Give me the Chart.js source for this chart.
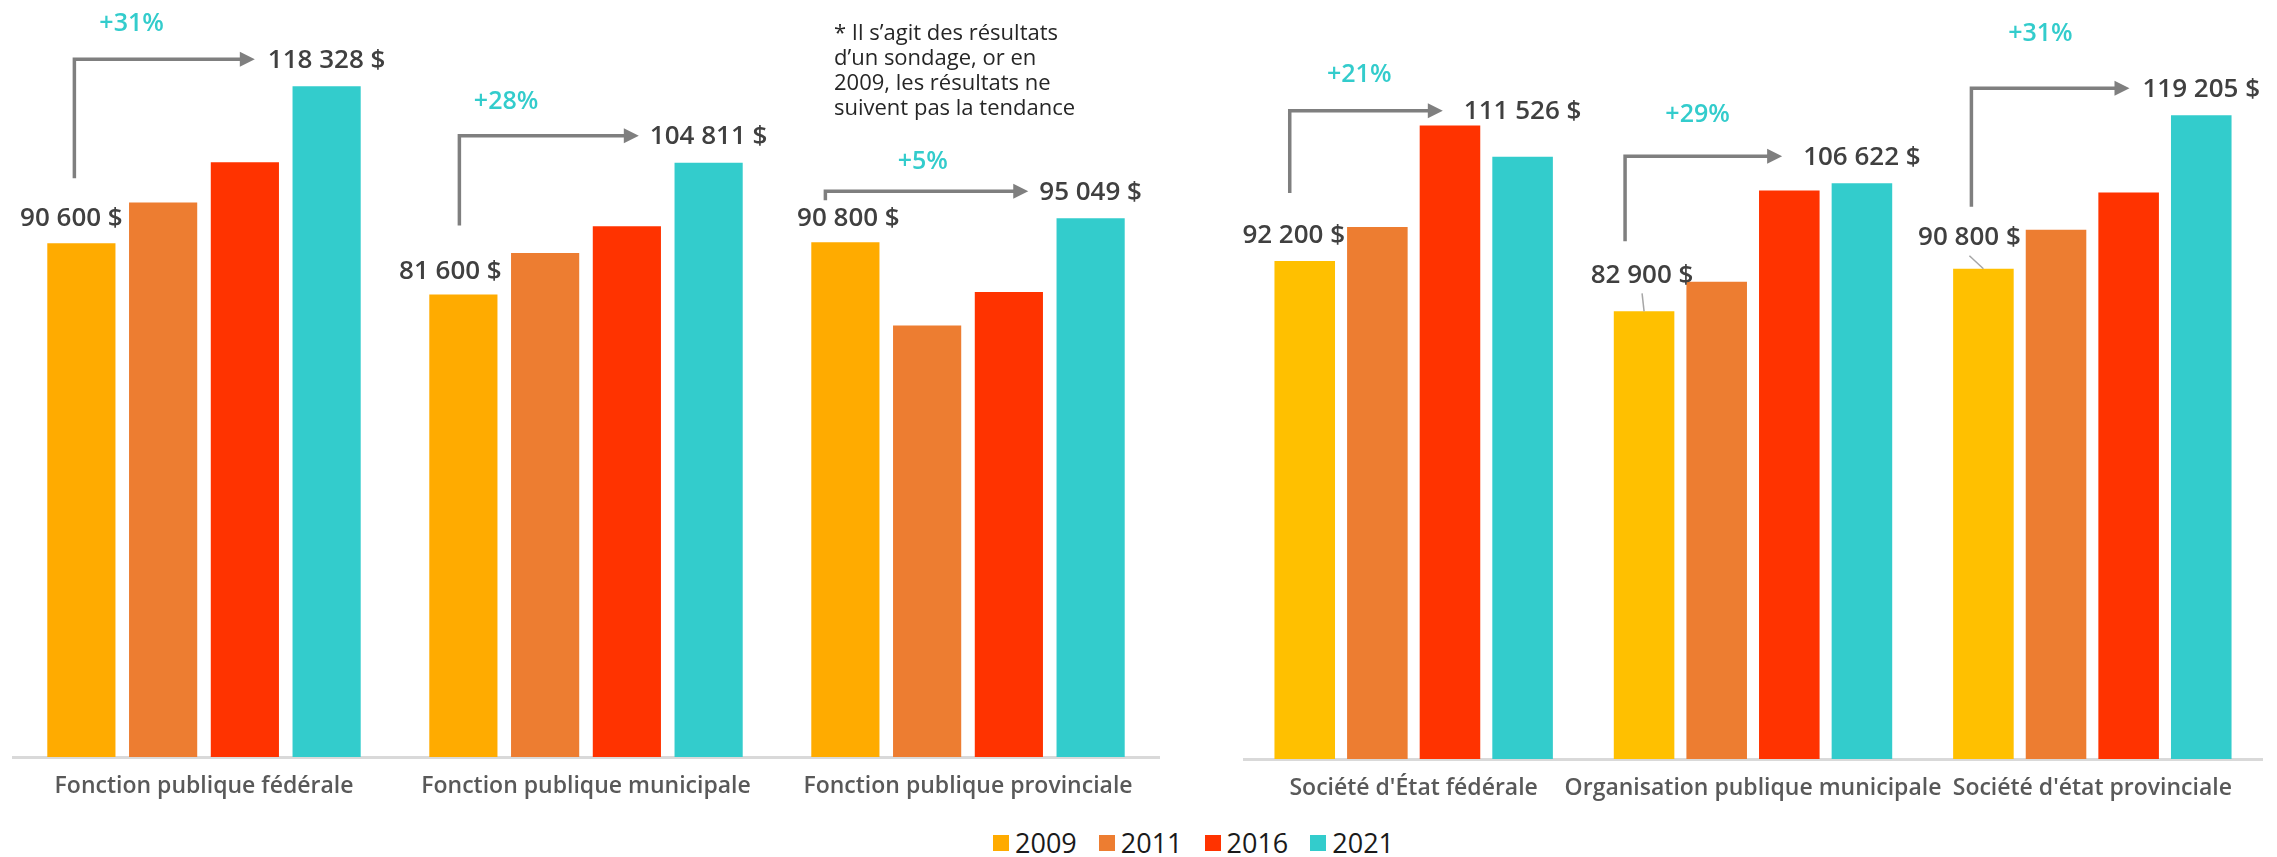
<!DOCTYPE html>
<html>
<head>
<meta charset="utf-8">
<script src="https://cdn.jsdelivr.net/npm/chart.js@4/dist/chart.umd.min.js"></script>
<style>
body { margin: 0; background: #fff; }
#wrap { position: relative; width: 2277px; height: 857px; background: #fff; font-family: "Open Sans", sans-serif; }
#left { position: absolute; left: 0; top: 0; }
#right { position: absolute; left: 1230px; top: 2px; }
#note { position: absolute; left: 834px; top: 19px; font-size: 22px; line-height: 25px; color: #262626; }
#legend { position: absolute; left: 993px; top: 826px; display: flex; align-items: center; font-size: 27px; line-height: 34px; color: #1a1a1a; }
#legend span.box { display: inline-block; width: 16px; height: 16px; margin-right: 6px; }
#legend span.txt { margin-right: 22px; }
</style>
</head>
<body>
<div id="wrap">
  <canvas id="left" width="1175" height="817"></canvas>
  <canvas id="right" width="1047" height="817"></canvas>
  <div id="note">* Il s’agit des résultats<br>d’un sondage, or en<br>2009, les résultats ne<br>suivent pas la tendance</div>
  <div id="legend"></div>
</div>
<script>
Chart.defaults.font.family = '"Open Sans", sans-serif'

const years = ['2009', '2011', '2016', '2021']

// Left panel: fonction publique
const leftCats = ['Fonction publique fédérale', 'Fonction publique municipale', 'Fonction publique provinciale']
const left2009 = [90600, 81600, 90800]
const left2011 = [97800, 88900, 76100]
const left2016 = [104900, 93600, 82000]
const left2021 = [118328, 104811, 95049]

// Right panel: sociétés d'État / organisations
const rightCats = ["Société d'État fédérale", 'Organisation publique municipale', "Société d'état provinciale"]
const right2009 = [92200, 82900, 90800]
const right2011 = [98500, 88400, 98000]
const right2016 = [117300, 105300, 104900]
const right2021 = [111526, 106622, 119205]

const leftColors = ['#FFAB00', '#ED7D31', '#FF3300', '#33CCCC']
const rightColors = ['#FFC000', '#ED7D31', '#FF3300', '#33CCCC']

const fmt = v => String(v).replace(/\B(?=(\d{3})+(?!\d))/g, ' ') + ' $'

// label nudges per group (pixels), placement only
const leftTweaks = [
	{fx: -10, fy: -25, ax: -7, ab: -40, px: -33, py: -35, ly: -26, tg: 13},
	{fx: -13, fy: -23, ax: -4, ab: -46, px: -43, py: -34, ly: -26, tg: 11},
	{fx: 3, fy: -24, ax: -20, ab: -18, px: -4, py: -29, ly: -26, tg: 11},
]
const rightTweaks = [
	{fx: -11, fy: -26, ax: -15, ab: -42, px: -7, py: -36, ly: -45, tg: 21},
	{fx: -2, fy: -36, ax: -19, ab: -34, px: -6, py: -41, ly: -26, tg: 21, lead: true},
	{fx: -14, fy: -31, ax: -12, ab: -31, px: -10, py: -54, ly: -26, tg: 13, lead: true},
]

const annotate = {
	id: 'annotate',
	afterDatasetsDraw(chart, args, opts) {
		const ctx = chart.ctx
		const n = chart.data.datasets.length
		const first = chart.getDatasetMeta(0).data
		const last = chart.getDatasetMeta(n - 1).data
		const d0 = chart.data.datasets[0].data
		const dL = chart.data.datasets[n - 1].data
		ctx.save()
		ctx.textAlign = 'center'
		ctx.textBaseline = 'middle'
		opts.tweaks.forEach((t, i) => {
			const b0 = first[i], bL = last[i]
			const fx = b0.x + t.fx, fy = b0.y + t.fy
			ctx.font = '600 26px "Open Sans"'
			ctx.fillStyle = '#404040'
			ctx.fillText(fmt(d0[i]), fx, fy)
			const endText = fmt(dL[i])
			const ly = bL.y + t.ly
			ctx.fillText(endText, bL.x, ly)
			const w = ctx.measureText(endText).width
			if (t.lead) {
				ctx.strokeStyle = '#A6A6A6'
				ctx.lineWidth = 1.5
				ctx.beginPath()
				ctx.moveTo(fx, fy + 18)
				ctx.lineTo(b0.x, b0.y)
				ctx.stroke()
			}
			// elbow arrow
			const ax = b0.x + t.ax, ab = fy + t.ab, at = ly - 1
			const tip = bL.x - w / 2 - t.tg
			ctx.strokeStyle = '#7F7F7F'
			ctx.fillStyle = '#7F7F7F'
			ctx.lineWidth = 3.5
			ctx.lineJoin = 'miter'
			ctx.beginPath()
			ctx.moveTo(ax, ab)
			ctx.lineTo(ax, at)
			ctx.lineTo(tip - 14, at)
			ctx.stroke()
			ctx.beginPath()
			ctx.moveTo(tip, at)
			ctx.lineTo(tip - 15, at - 7.5)
			ctx.lineTo(tip - 15, at + 7.5)
			ctx.closePath()
			ctx.fill()
			// growth
			const pct = '+' + Math.round((dL[i] / d0[i] - 1) * 100) + '%'
			ctx.font = '600 25px "Open Sans"'
			ctx.fillStyle = '#33CCCC'
			ctx.fillText(pct, (ax + tip) / 2 + t.px, at + t.py)
		})
		ctx.restore()
	}
}

function makeChart(id, cats, series, colors, tweaks, pad) {
	return new Chart(document.getElementById(id), {
		type: 'bar',
		data: {
			labels: cats,
			datasets: years.map((y, k) => ({
				label: y,
				data: series[k],
				backgroundColor: colors[k],
				categoryPercentage: 0.856,
				barPercentage: 0.834,
			}))
		},
		options: {
			responsive: false,
			animation: false,
			layout: { padding: pad },
			plugins: {
				legend: { display: false },
				tooltip: { enabled: false },
				annotate: { tweaks: tweaks },
			},
			scales: {
				x: {
					grid: { display: false, drawTicks: false },
					border: { display: true, color: '#D9D9D9', width: 3 },
					ticks: { color: '#595959', padding: 16, maxRotation: 0, autoSkip: false,
						font: { size: 23, weight: '600' } },
					afterFit: s => { s.height = 60 },
				},
				y: { display: false, min: 0, max: 130000 },
			}
		},
		plugins: [annotate]
	})
}

makeChart('left', leftCats, [left2009, left2011, left2016, left2021], leftColors, leftTweaks,
	{ left: 13, right: 16, top: 20, bottom: 0 })
makeChart('right', rightCats, [right2009, right2011, right2016, right2021], rightColors, rightTweaks,
	{ left: 14, right: 15, top: 55, bottom: 0 })

// shared legend
const legend = document.getElementById('legend')
years.forEach((y, k) => {
	legend.innerHTML += '<span class="box" style="background:' + leftColors[k] + '"></span><span class="txt">' + y + '</span>'
})
</script>
</body>
</html>
